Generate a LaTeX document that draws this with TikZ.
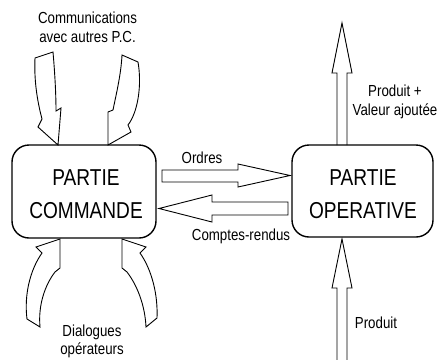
\documentclass[tikz,border=0pt]{standalone}
\usepackage{fontspec}
\setmainfont{Liberation Sans}
\newfontfamily\narrowsans[FakeStretch=0.83]{Liberation Sans}
\begin{document}
\begin{tikzpicture}[x=1pt,y=-1pt,
  box/.style={draw, line width=1.4pt, rounded corners=17pt, inner sep=0pt},
  blockarrow/.style={draw, fill=white, line width=0.9pt, line join=miter},
  lbl/.style={font=\narrowsans\fontsize{16}{19.5}\selectfont, align=center, inner sep=0pt},
  big/.style={font=\narrowsans\fontsize{23}{33}\selectfont, align=center, inner sep=0pt}]
\useasboundingbox (0,0) rectangle (438,359);
% curved arrows (top)
\path[blockarrow] (35,58) -- (53,52) .. controls (55,75) and (56,95) .. (56,111)
  -- (61,108) -- (58,145) -- (38,127) -- (42,119) .. controls (37,100) and (34,80) .. cycle;
\path[blockarrow] (122,55) -- (138,62) .. controls (142,85) and (138,112) .. (128,125)
  -- (131,132) -- (108,145) -- (108,112) -- (113,110) .. controls (116,95) and (121,75) .. cycle;
% curved arrows (bottom)
\path[blockarrow] (60,239) -- (60,268) -- (55,272) .. controls (45,285) and (38,305) .. (40,327)
  -- (27,319) .. controls (24,295) and (30,270) .. (42,253) -- (36,247) -- cycle;
\path[blockarrow] (122,239) -- (122,268) -- (127,272) .. controls (137,285) and (145,305) .. (146,327)
  -- (157,318) .. controls (158,295) and (152,270) .. (140,253) -- (146,247) -- cycle;
% Ordres
\path[blockarrow] (162,170) -- (238,170) -- (238,164) -- (290,175.5) -- (238,187) -- (238,182) -- (162,182) -- cycle;
% Comptes-rendus
\path[blockarrow] (159,208.5) -- (212,195) -- (212,202) -- (288,202) -- (288,215) -- (212,215) -- (212,222) -- cycle;
% vertical arrows
\path[blockarrow] (337,145) -- (337,73) -- (332,73) -- (342,23) -- (352,73) -- (347,73) -- (347,145);
\path[blockarrow] (337,361) -- (337,288) -- (332,288) -- (342,239) -- (352,288) -- (347,288) -- (347,361);
% boxes
\node[box, minimum width=144pt, minimum height=93pt] (cmd) at (84,191.5) {};
\node[box, minimum width=141pt, minimum height=92pt] (op) at (362.5,191) {};
\node[big] (cmdtxt) at (86,194.5) {PARTIE\\COMMANDE};
\node[big] (optxt) at (363,194) {PARTIE\\OPERATIVE};
% labels
\node[lbl] (comm) at (87.5,27.5) {Communications\\avec autres P.C.};
\node[lbl, font=\narrowsans\fontsize{16}{18}\selectfont] (dial) at (92,341) {Dialogues\\opérateurs};
\node[lbl] (ordres) at (202,158) {Ordres};
\node[lbl] (cr) at (241,236) {Comptes-rendus};
\node[lbl] (pva) at (395,102) {Produit +\\Valeur ajoutée};
\node[lbl] (prod) at (376,323) {Produit};
\end{tikzpicture}
\end{document}
